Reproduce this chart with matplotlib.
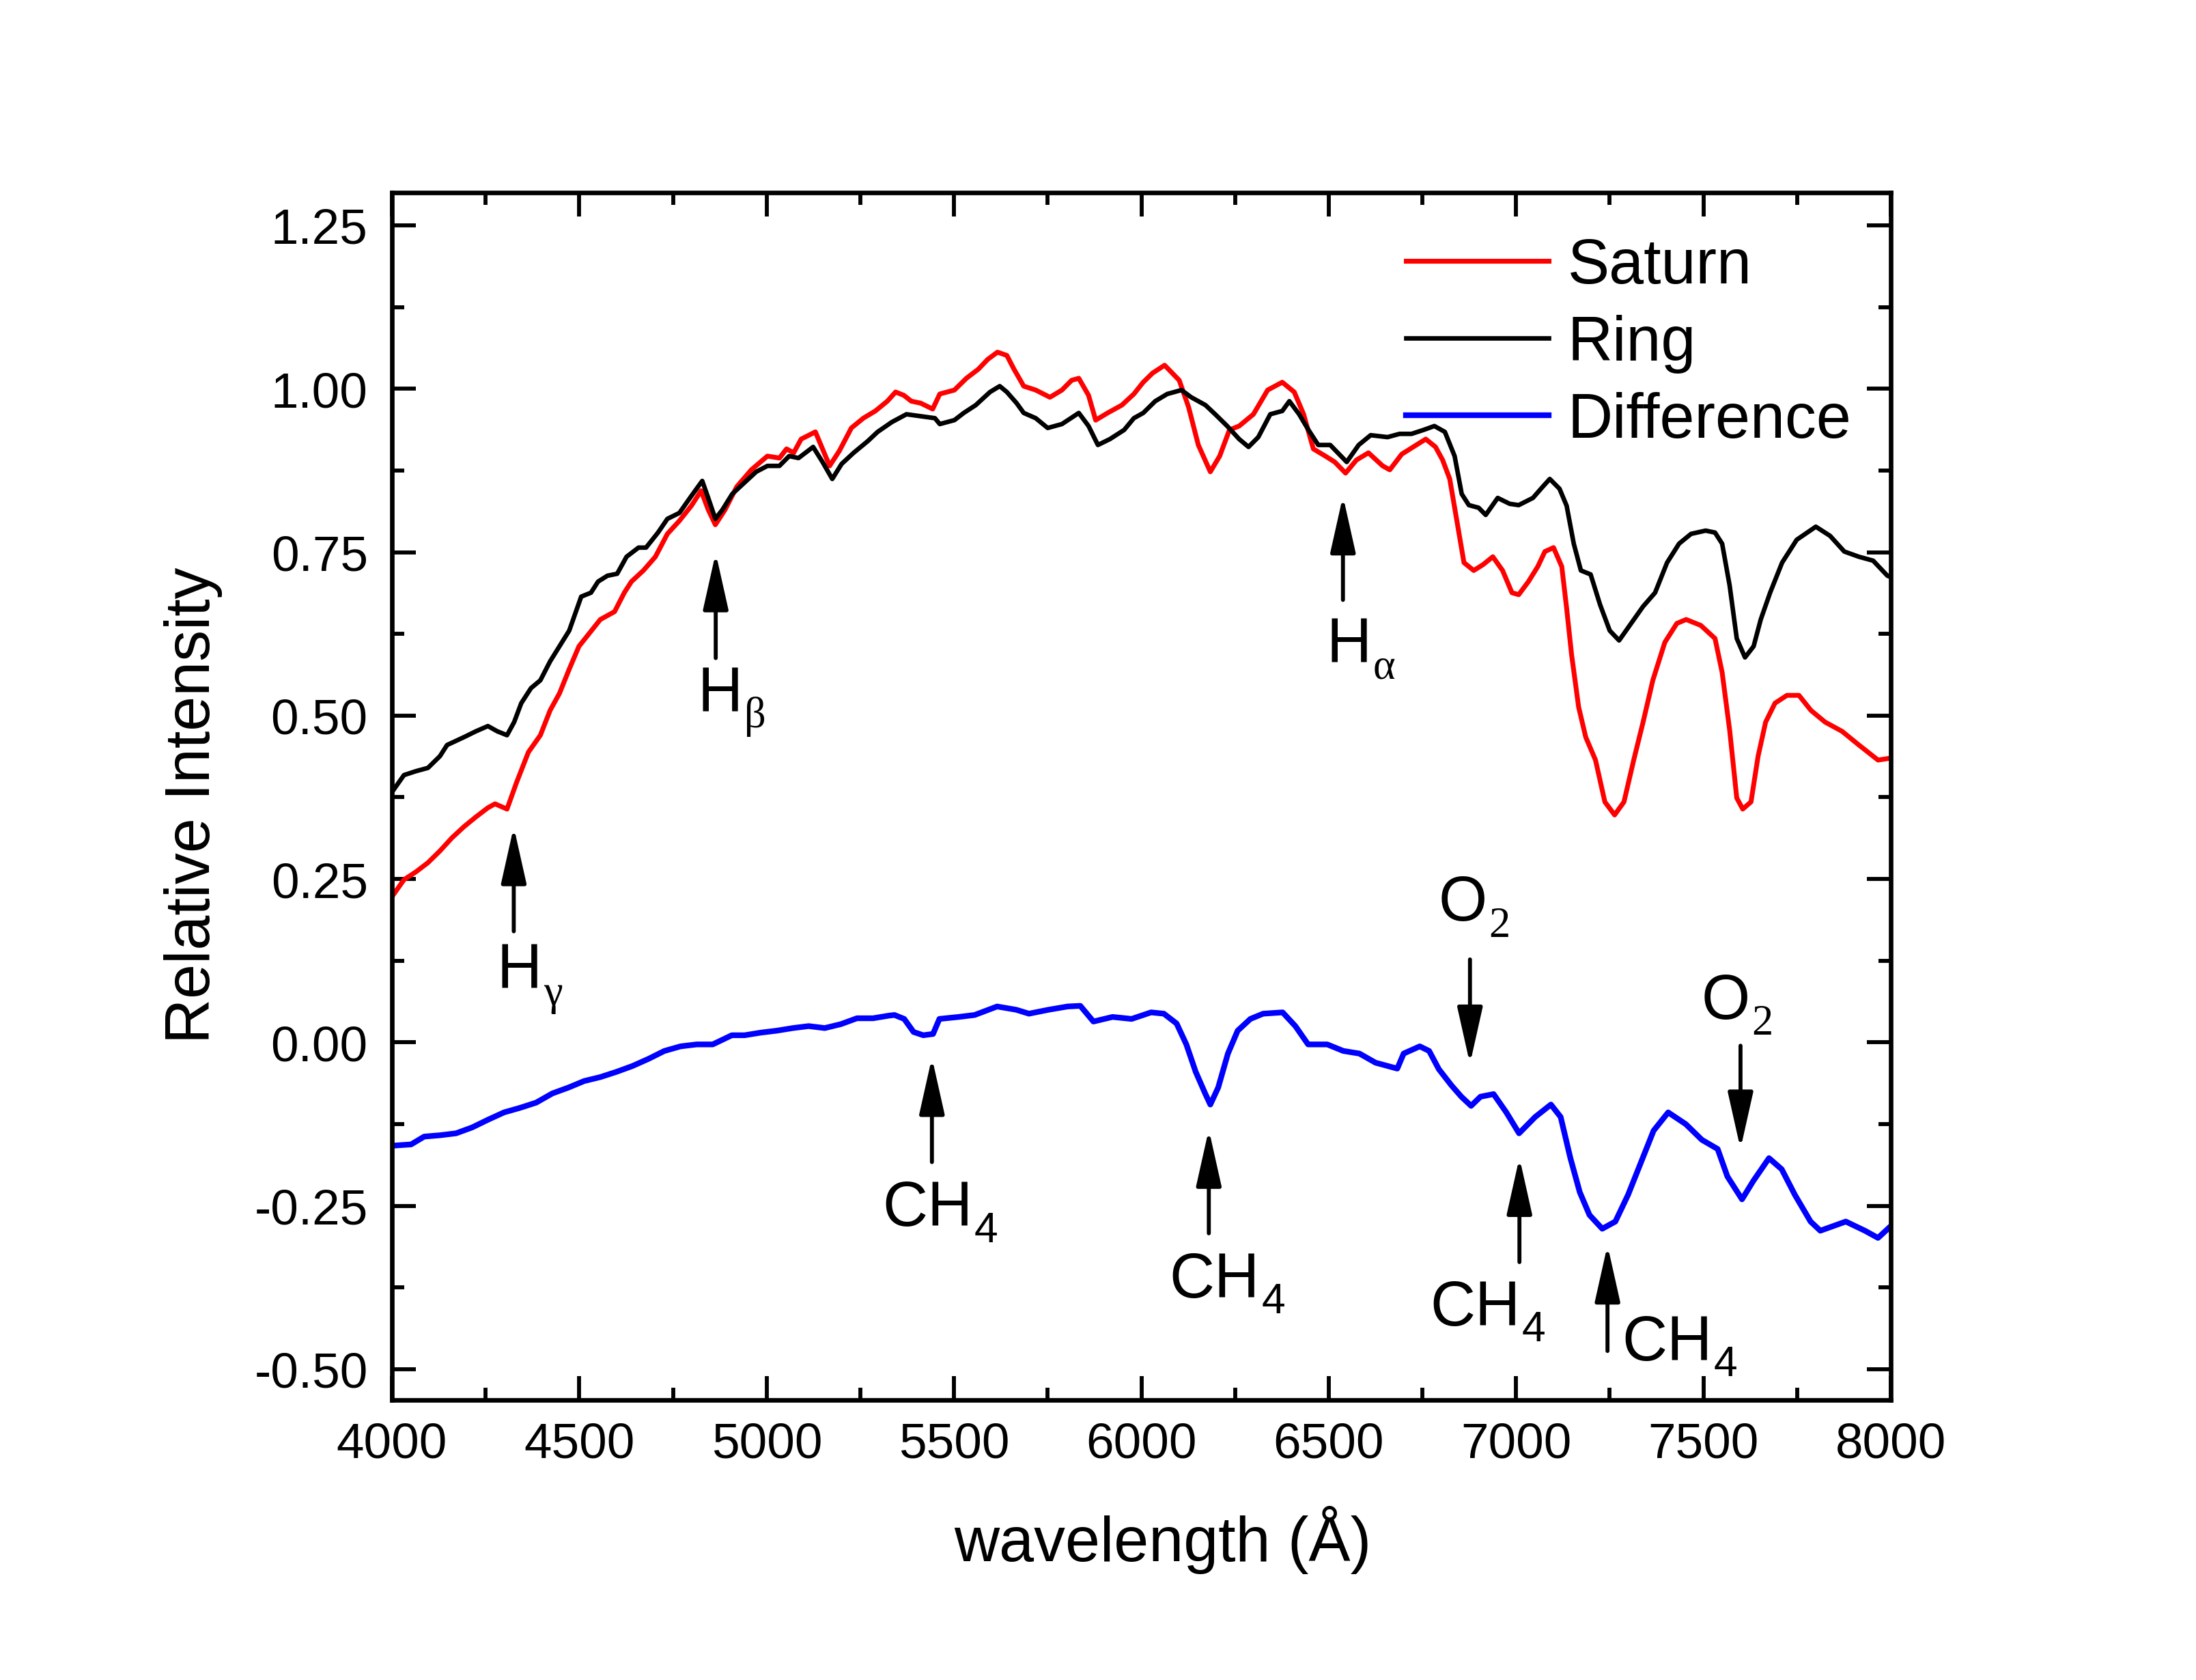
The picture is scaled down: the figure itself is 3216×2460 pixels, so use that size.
from __future__ import annotations

import matplotlib

matplotlib.use("Agg")
import matplotlib.pyplot as plt
from matplotlib.ticker import MultipleLocator

OUTPUT_PNG = "out.png"
FIG_SIZE = (10.72, 8.203)
DPI = 300
LABEL_SIZE = 22
SUB_SIZE = 15
SUB_DROP = 5.6  # points below the baseline

# wavelength in Angstrom
SATURN_WL = [
    4000, 4032, 4064, 4096, 4128, 4160, 4192, 4224, 4256, 4275, 4307, 4332, 4364, 4396, 4422,
    4447, 4473, 4499, 4524, 4556, 4594, 4620, 4639, 4671, 4703, 4735, 4767, 4799, 4825, 4844,
    4863, 4889, 4920, 4959, 5002, 5034, 5053, 5072, 5092, 5130, 5168, 5194, 5226, 5258, 5290,
    5322, 5344, 5366, 5386, 5411, 5443, 5462, 5501, 5533, 5565, 5590, 5616, 5641, 5660, 5686,
    5718, 5756, 5788, 5814, 5833, 5859, 5878, 5910, 5948, 5980, 6005, 6030, 6062, 6101, 6126,
    6152, 6184, 6209, 6235, 6261, 6299, 6337, 6376, 6408, 6433, 6459, 6491, 6516, 6545, 6574,
    6606, 6644, 6663, 6695, 6734, 6759, 6785, 6804, 6823, 6842, 6861, 6887, 6912, 6938, 6964,
    6989, 7007, 7033, 7058, 7077, 7100, 7122, 7135, 7148, 7167, 7186, 7212, 7237, 7263, 7288,
    7314, 7339, 7365, 7397, 7429, 7454, 7493, 7531, 7550, 7570, 7589, 7605, 7627, 7646, 7666,
    7691, 7723, 7755, 7787, 7825, 7870, 7915, 7966, 8000,
]
SATURN = [
    0.223, 0.249, 0.261, 0.275, 0.293, 0.313, 0.330, 0.345, 0.359, 0.365, 0.357, 0.397, 0.444, 0.470, 0.508,
    0.534, 0.571, 0.606, 0.624, 0.647, 0.659, 0.688, 0.705, 0.722, 0.743, 0.778, 0.798, 0.821, 0.844, 0.815,
    0.792, 0.815, 0.850, 0.876, 0.897, 0.894, 0.908, 0.902, 0.923, 0.934, 0.882, 0.905, 0.940, 0.955, 0.966,
    0.981, 0.995, 0.990, 0.981, 0.978, 0.969, 0.992, 0.998, 1.016, 1.030, 1.045, 1.056, 1.051, 1.030, 1.004,
    0.998, 0.987, 0.998, 1.013, 1.016, 0.990, 0.952, 0.963, 0.975, 0.992, 1.010, 1.024, 1.036, 1.013, 0.972,
    0.914, 0.873, 0.897, 0.937, 0.943, 0.961, 0.998, 1.010, 0.995, 0.961, 0.908, 0.897, 0.888, 0.871, 0.891,
    0.902, 0.882, 0.876, 0.900, 0.914, 0.923, 0.911, 0.891, 0.862, 0.798, 0.734, 0.722, 0.731, 0.743, 0.722,
    0.688, 0.685, 0.705, 0.728, 0.751, 0.757, 0.728, 0.664, 0.594, 0.513, 0.467, 0.432, 0.368, 0.348, 0.368,
    0.432, 0.490, 0.554, 0.612, 0.641, 0.647, 0.638, 0.618, 0.566, 0.478, 0.374, 0.357, 0.368, 0.438, 0.490,
    0.519, 0.531, 0.531, 0.508, 0.490, 0.476, 0.455, 0.432, 0.435,
]

RING_WL = [
    4000, 4032, 4064, 4096, 4128, 4147, 4192, 4224, 4256, 4281, 4307, 4326, 4345, 4371, 4396,
    4422, 4447, 4473, 4505, 4531, 4550, 4575, 4601, 4626, 4658, 4678, 4710, 4735, 4767, 4799,
    4828, 4844, 4863, 4882, 4908, 4940, 4972, 5002, 5034, 5060, 5085, 5124, 5149, 5175, 5200,
    5232, 5270, 5296, 5334, 5373, 5411, 5449, 5462, 5501, 5526, 5558, 5596, 5622, 5641, 5667,
    5686, 5718, 5750, 5788, 5833, 5859, 5884, 5916, 5954, 5980, 6005, 6037, 6069, 6107, 6133,
    6171, 6197, 6229, 6261, 6286, 6312, 6344, 6376, 6395, 6421, 6446, 6472, 6504, 6548, 6580,
    6612, 6657, 6689, 6721, 6753, 6782, 6810, 6836, 6855, 6874, 6900, 6919, 6951, 6983, 7007,
    7045, 7071, 7090, 7116, 7135, 7154, 7173, 7199, 7224, 7250, 7275, 7307, 7339, 7371, 7403,
    7435, 7467, 7506, 7531, 7550, 7570, 7589, 7611, 7634, 7653, 7678, 7710, 7749, 7800, 7838,
    7876, 7915, 7953, 7991, 8000,
]
RING = [
    0.383, 0.409, 0.415, 0.420, 0.438, 0.455, 0.467, 0.476, 0.484, 0.476, 0.470, 0.490, 0.519, 0.542, 0.554,
    0.583, 0.606, 0.630, 0.682, 0.688, 0.705, 0.714, 0.717, 0.743, 0.757, 0.757, 0.780, 0.801, 0.810, 0.836,
    0.859, 0.833, 0.801, 0.815, 0.839, 0.856, 0.873, 0.882, 0.882, 0.897, 0.894, 0.911, 0.888, 0.862, 0.885,
    0.902, 0.920, 0.934, 0.949, 0.961, 0.958, 0.955, 0.946, 0.952, 0.963, 0.975, 0.995, 1.004, 0.995, 0.978,
    0.963, 0.955, 0.940, 0.946, 0.963, 0.943, 0.914, 0.923, 0.937, 0.955, 0.963, 0.981, 0.992, 0.998, 0.987,
    0.975, 0.961, 0.943, 0.923, 0.911, 0.926, 0.961, 0.966, 0.981, 0.961, 0.937, 0.914, 0.914, 0.888, 0.914,
    0.929, 0.926, 0.931, 0.931, 0.937, 0.943, 0.934, 0.897, 0.839, 0.822, 0.818, 0.807, 0.833, 0.824, 0.822,
    0.833, 0.850, 0.862, 0.847, 0.821, 0.763, 0.722, 0.716, 0.670, 0.630, 0.615, 0.641, 0.667, 0.688, 0.734,
    0.763, 0.778, 0.783, 0.780, 0.763, 0.699, 0.618, 0.589, 0.606, 0.647, 0.688, 0.734, 0.769, 0.789, 0.775,
    0.751, 0.743, 0.737, 0.714, 0.712,
]

DIFF_WL = [
    4000, 4051, 4086, 4128, 4171, 4214, 4257, 4299, 4342, 4385, 4428, 4471, 4513, 4556, 4599,
    4642, 4685, 4727, 4770, 4813, 4856, 4907, 4941, 4984, 5027, 5070, 5112, 5155, 5198, 5241,
    5284, 5326, 5341, 5367, 5392, 5418, 5444, 5461, 5512, 5555, 5615, 5666, 5700, 5752, 5803,
    5837, 5872, 5923, 5974, 6026, 6060, 6094, 6120, 6145, 6171, 6184, 6205, 6231, 6257, 6291,
    6325, 6377, 6411, 6445, 6496, 6539, 6582, 6625, 6683, 6700, 6743, 6768, 6794, 6828, 6854,
    6880, 6905, 6940, 6974, 7008, 7051, 7093, 7119, 7145, 7170, 7196, 7230, 7265, 7299, 7333,
    7367, 7406, 7453, 7496, 7538, 7564, 7603, 7633, 7675, 7709, 7744, 7786, 7812, 7880, 7931,
    7966, 8000,
]
DIFFERENCE = [
    -0.158, -0.156, -0.144, -0.142, -0.139, -0.130, -0.118, -0.107, -0.100, -0.092, -0.078, -0.069, -0.059, -0.053, -0.045,
    -0.036, -0.025, -0.013, -0.006, -0.003, -0.003, 0.011, 0.011, 0.015, 0.018, 0.022, 0.025, 0.022, 0.028, 0.037,
    0.037, 0.041, 0.042, 0.036, 0.016, 0.011, 0.013, 0.036, 0.039, 0.042, 0.055, 0.050, 0.044, 0.050, 0.055,
    0.056, 0.032, 0.039, 0.036, 0.046, 0.044, 0.029, -0.003, -0.045, -0.079, -0.095, -0.069, -0.017, 0.018, 0.036,
    0.044, 0.046, 0.025, -0.003, -0.003, -0.013, -0.017, -0.031, -0.040, -0.017, -0.006, -0.013, -0.041, -0.066, -0.083,
    -0.097, -0.083, -0.079, -0.107, -0.139, -0.114, -0.095, -0.114, -0.177, -0.229, -0.264, -0.285, -0.274, -0.233, -0.184,
    -0.135, -0.107, -0.125, -0.149, -0.163, -0.205, -0.240, -0.212, -0.177, -0.194, -0.233, -0.274, -0.288, -0.274, -0.288,
    -0.299, -0.281,
]

# spectral features: main text, subscript, serif subscript?, arrow x, arrow tail y, arrow tip y,
# label left x, label baseline y
FEATURES = [
    ("H", "γ", True, 4325, 0.170, 0.330, 4279, 0.083),
    ("H", "β", True, 4864, 0.588, 0.749, 4816, 0.507),
    ("H", "α", True, 6538, 0.677, 0.836, 6493, 0.582),
    ("CH", "4", False, 5441, -0.183, -0.023, 5309, -0.280),
    ("CH", "4", False, 6180, -0.292, -0.133, 6075, -0.389),
    ("CH", "4", False, 7009, -0.336, -0.176, 6770, -0.432),
    ("CH", "4", False, 7244, -0.472, -0.310, 7282, -0.485),
    ("O", "2", True, 6877, 0.127, -0.033, 6793, 0.187),
    ("O", "2", True, 7599, -0.005, -0.163, 7495, 0.037),
]

SANS = ["Liberation Sans", "DejaVu Sans"]
SERIF = ["Liberation Serif", "DejaVu Serif"]


def style_axes(ax) -> None:
    ax.set_xlim(4000, 8000)
    ax.set_ylim(-0.547, 1.30)
    ax.xaxis.set_major_locator(MultipleLocator(500))
    ax.xaxis.set_minor_locator(MultipleLocator(250))
    ax.yaxis.set_major_locator(MultipleLocator(0.25))
    ax.yaxis.set_minor_locator(MultipleLocator(0.125))
    ax.yaxis.set_major_formatter(plt.FuncFormatter(lambda v, _: f"{v:.2f}"))

    ax.tick_params(which="both", direction="in", top=True, right=True, width=1.4)
    ax.tick_params(which="major", length=8.5)
    ax.tick_params(which="minor", length=4.3)
    ax.tick_params(axis="x", which="major", labelsize=17.5, pad=7.5)
    ax.tick_params(axis="y", which="major", labelsize=17.5, pad=8.5)
    for spine in ax.spines.values():
        spine.set_linewidth(1.6)

    ax.set_xlabel("wavelength (Å)", fontsize=LABEL_SIZE)
    ax.set_ylabel("Relative Intensity", fontsize=LABEL_SIZE)
    ax.xaxis.set_label_coords(0.514, -0.087)
    ax.yaxis.set_label_coords(-0.113, 0.493)


def draw_features(fig, ax) -> None:
    renderer = fig.canvas.get_renderer()
    for main, sub, serif_sub, x, tail, tip, tx, ty in FEATURES:
        ax.annotate(
            "",
            xy=(x, tip),
            xytext=(x, tail),
            arrowprops=dict(
                arrowstyle="-|>,head_length=1.7,head_width=0.38",
                mutation_scale=10,
                color="black",
                lw=1.4,
                shrinkA=0,
                shrinkB=0,
            ),
        )
        text = ax.text(tx, ty, main, fontsize=LABEL_SIZE, ha="left", va="baseline")
        width_pt = text.get_window_extent(renderer).width * 72 / fig.dpi
        ax.annotate(
            sub,
            xy=(tx, ty),
            xytext=(width_pt + 0.6, -SUB_DROP),
            textcoords="offset points",
            fontsize=SUB_SIZE,
            family=SERIF if serif_sub else SANS,
            ha="left",
            va="baseline",
        )


def main() -> None:
    plt.rcParams["font.family"] = SANS
    fig = plt.figure(figsize=FIG_SIZE, dpi=DPI)
    fig.patch.set_facecolor("white")
    ax = fig.add_axes([0.1785, 0.1666, 0.6825, 0.7184])

    ax.plot(SATURN_WL, SATURN, color="#FF0000", lw=1.7, label="Saturn")
    ax.plot(RING_WL, RING, color="black", lw=1.6, label="Ring")
    ax.plot(DIFF_WL, DIFFERENCE, color="#0000FF", lw=2.0, label="Difference")

    style_axes(ax)
    draw_features(fig, ax)

    ax.legend(
        loc="upper left",
        bbox_to_anchor=(0.6765, 0.963),
        frameon=False,
        fontsize=LABEL_SIZE,
        handlelength=2.28,
        handletextpad=0.3,
        labelspacing=0.29,
        borderpad=0,
        borderaxespad=0,
    )

    fig.savefig(OUTPUT_PNG, dpi=DPI)
    plt.close(fig)


if __name__ == "__main__":
    main()
